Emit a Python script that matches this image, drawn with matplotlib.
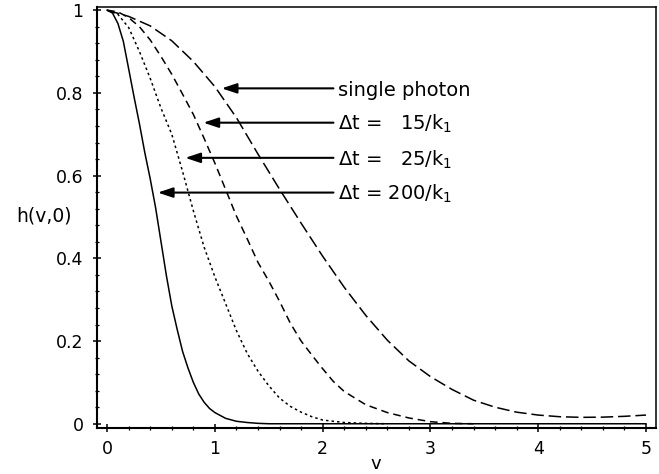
import matplotlib
matplotlib.use("Agg")
import matplotlib.pyplot as plt
from matplotlib.ticker import MultipleLocator, FixedLocator

plt.rcParams["font.family"] = ["DejaVu Sans"]
plt.rcParams["lines.scale_dashes"] = False

# single photon (long dash)
v_single = [0, 0.2, 0.4, 0.6, 0.8, 1.0, 1.2, 1.4, 1.6, 1.8, 2.0, 2.2, 2.4, 2.6,
            2.8, 3.0, 3.2, 3.4, 3.6, 3.8, 4.0, 4.2, 4.4, 4.6, 4.8, 5.0]
h_single = [1.0, 0.985, 0.962, 0.926, 0.876, 0.815, 0.74, 0.652, 0.567, 0.485,
            0.405, 0.33, 0.262, 0.202, 0.152, 0.114, 0.083, 0.057, 0.04, 0.028,
            0.021, 0.017, 0.0155, 0.016, 0.018, 0.021]

# dt = 15/k1 (dashed)
v_15 = [0, 0.1, 0.2, 0.3, 0.4, 0.5, 0.6, 0.7, 0.8, 0.9, 1.0, 1.1, 1.2, 1.3, 1.4,
        1.5, 1.6, 1.7, 1.8, 1.9, 2.0, 2.1, 2.2, 2.4, 2.6, 2.8, 3.0, 3.2, 3.4]
h_15 = [1.0, 0.996, 0.982, 0.96, 0.928, 0.888, 0.845, 0.797, 0.748, 0.69, 0.63,
        0.566, 0.502, 0.447, 0.39, 0.345, 0.296, 0.243, 0.2, 0.166, 0.133, 0.102,
        0.078, 0.046, 0.027, 0.014, 0.005, 0.001, 0.0]

# dt = 25/k1 (dotted)
v_25 = [0, 0.1, 0.2, 0.3, 0.4, 0.5, 0.6, 0.7, 0.8, 0.9, 1.0, 1.1, 1.2, 1.3, 1.4,
        1.5, 1.6, 1.7, 1.8, 1.9, 2.0, 2.2, 2.4, 2.6]
h_25 = [1.0, 0.99, 0.958, 0.9, 0.835, 0.763, 0.7, 0.61, 0.515, 0.427, 0.355,
        0.29, 0.225, 0.17, 0.127, 0.092, 0.062, 0.042, 0.028, 0.017, 0.009,
        0.003, 0.001, 0.0]

# dt = 200/k1 (solid)
v_200 = [0, 0.05, 0.1, 0.15, 0.2, 0.25, 0.3, 0.35, 0.4, 0.45, 0.5, 0.55, 0.6,
         0.65, 0.7, 0.75, 0.8, 0.85, 0.9, 0.95, 1.0, 1.1, 1.2, 1.3, 1.4, 1.5, 5.0]
h_200 = [1.0, 0.993, 0.968, 0.925, 0.858, 0.79, 0.725, 0.655, 0.592, 0.522, 0.44,
         0.358, 0.285, 0.228, 0.175, 0.135, 0.1, 0.072, 0.052, 0.037, 0.027,
         0.013, 0.006, 0.003, 0.001, 0.0, 0.0]

# annotation labels, arrow heights and arrow tips
labels = ["single photon", "Δt =   15/k$_1$", "Δt =   25/k$_1$", "Δt = 200/k$_1$"]
label_y = [0.811, 0.728, 0.643, 0.559]
tip_x = [1.063, 0.893, 0.725, 0.47]
tail_x = 2.10

fig = plt.figure(figsize=(6.59, 4.74), dpi=100)
ax = fig.add_axes([0.1467, 0.0964, 0.8483, 0.8895])

lw = 1.1
ax.plot(v_single, h_single, color="black", lw=lw, dashes=(9, 3.5))
ax.plot(v_15, h_15, color="black", lw=lw, dashes=(5.5, 3.5))
ax.plot(v_25, h_25, color="black", lw=lw, dashes=(1.8, 2.2))
ax.plot(v_200, h_200, color="black", lw=lw, ls="-")

for lab, y, tx in zip(labels, label_y, tip_x):
    ax.annotate("", xy=(tx, y), xytext=(tail_x, y),
                arrowprops=dict(arrowstyle="-|>,head_length=0.9,head_width=0.3",
                                color="black", lw=1.5, shrinkA=0, shrinkB=0))
    ax.text(tail_x + 0.045, y - 0.004, lab, fontsize=14, va="center", ha="left")

ax.set_xlim(-0.097, 5.09)
ax.set_ylim(-0.011, 1.0085)

ax.xaxis.set_major_locator(FixedLocator([0, 1, 2, 3, 4, 5]))
ax.xaxis.set_minor_locator(MultipleLocator(0.2))
ax.yaxis.set_major_locator(FixedLocator([0, 0.2, 0.4, 0.6, 0.8, 1.0]))
ax.yaxis.set_minor_locator(MultipleLocator(0.04))
ax.set_xticklabels(["0", "1", "2", "3", "4", "5"])
ax.set_yticklabels(["0", "0.2", "0.4", "0.6", "0.8", "1"])

ax.tick_params(axis="both", which="major", direction="inout", length=6, width=1.1,
               labelsize=12.5)
ax.tick_params(axis="y", which="major", pad=6.5)
ax.tick_params(axis="x", which="major", pad=5.5)
ax.tick_params(axis="both", which="minor", direction="inout", length=3.5, width=0.9)
ax.tick_params(top=False, right=False, which="both")

for side in ["left", "bottom"]:
    ax.spines[side].set_linewidth(1.5)
for side in ["top", "right"]:
    ax.spines[side].set_linewidth(1.1)

ax.set_xlabel("v", fontsize=13, va="center")
ax.xaxis.set_label_coords(0.5, -0.085)
ax.set_ylabel("h(v,0)", fontsize=13.5, rotation=0, va="center", ha="center")
ax.yaxis.set_label_coords(-0.094, 0.504)

fig.savefig("out.png", dpi=100)
